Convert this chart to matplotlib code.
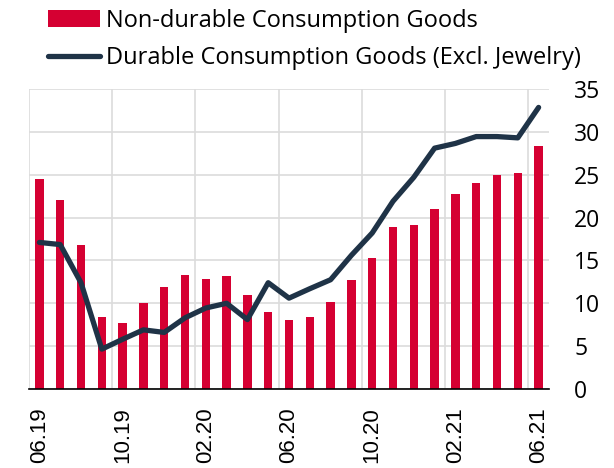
import numpy as np
import matplotlib
matplotlib.use("Agg")
import matplotlib.pyplot as plt

# Monthly values, 06.19 .. 06.21
months = ["06.19", "07.19", "08.19", "09.19", "10.19", "11.19", "12.19", "01.20",
          "02.20", "03.20", "04.20", "05.20", "06.20", "07.20", "08.20", "09.20",
          "10.20", "11.20", "12.20", "01.21", "02.21", "03.21", "04.21", "05.21", "06.21"]
non_durable = [24.5, 22.0, 16.8, 8.4, 7.7, 10.0, 11.9, 13.3, 12.8, 13.2, 11.0, 9.0, 8.0,
               8.35, 10.15, 12.75, 15.3, 18.9, 19.15, 21.0, 22.8, 24.0, 25.0, 25.25, 28.3]
durable = [17.1, 16.85, 12.4, 4.65, 5.8, 6.9, 6.6, 8.3, 9.45, 10.0, 8.1, 12.4, 10.6,
           11.7, 12.75, 15.6, 18.2, 21.9, 24.7, 28.1, 28.65, 29.45, 29.45, 29.3, 32.85]

red = "#d50032"
navy = "#1f3347"

fig = plt.figure(figsize=(6.14, 4.68), dpi=100)
ax = fig.add_axes([29 / 614, 79 / 468, 520 / 614, 300 / 468])

x = np.arange(len(months))
bars = ax.bar(x, non_durable, width=0.4, color=red, label="Non-durable Consumption Goods", zorder=2)
line, = ax.plot(x, durable, color=navy, linewidth=3.8, solid_capstyle="round",
                solid_joinstyle="round", label="Durable Consumption Goods (Excl. Jewelry)", zorder=3)

ax.set_xlim(-0.5, len(months) - 0.5)
ax.set_ylim(0, 35)
ax.set_yticks(np.arange(0, 36, 5))

# labels every 4 months, grid lines on the category boundaries
ax.set_xticks(x[::4])
ax.set_xticklabels(months[::4], rotation=90, fontsize=16, family="Liberation Sans")
ax.set_xticks(x[::4] - 0.5, minor=True)
ax.tick_params(axis="x", which="both", length=0, pad=13)
ax.grid(True, which="minor", axis="x", color="#dcdcdc", linewidth=1.2, zorder=0)
ax.grid(True, which="major", axis="y", color="#dcdcdc", linewidth=1.2, zorder=0)

ax.yaxis.tick_right()
ax.tick_params(axis="y", length=0, pad=18, labelsize=16.5)
for lab in ax.get_yticklabels():
    lab.set_family("Open Sans")

for s in ["top", "right", "left"]:
    ax.spines[s].set_visible(False)
ax.spines["bottom"].set_color("black")
ax.spines["bottom"].set_linewidth(1.2)
ax.spines["bottom"].set_zorder(4)

fig.legend(handles=[bars, line], loc="upper left", bbox_to_anchor=(48 / 614, 1 - 9 / 468),
           frameon=False, prop={"family": "Open Sans", "size": 17}, handlelength=2.2,
           handletextpad=0.25, labelspacing=0.55, borderpad=0, borderaxespad=0)

fig.savefig("out.png", dpi=100)
